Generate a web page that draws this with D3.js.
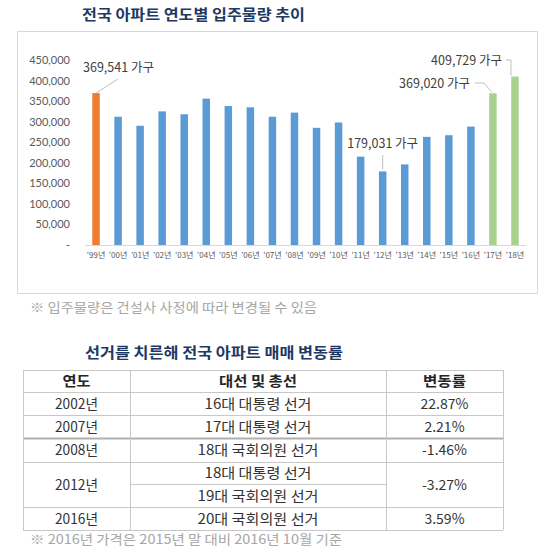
<!DOCTYPE html>
<html><head><meta charset="utf-8">
<script src="https://cdn.jsdelivr.net/npm/d3@7"></script>
<style>
html,body{margin:0;padding:0;background:#fff;}
svg{display:block;font-family:"Noto Sans CJK KR","Noto Sans",sans-serif;}
</style></head>
<body>
<svg id="c" width="560" height="560"></svg>
<script>
// ---- data ----
const years = ["'99년","'00년","'01년","'02년","'03년","'04년","'05년","'06년","'07년","'08년","'09년","'10년","'11년","'12년","'13년","'14년","'15년","'16년","'17년","'18년"];
const supply = [369541,312000,290000,325000,318000,356000,338000,335000,312000,322000,285000,298000,215000,179031,196000,263000,267000,288000,369020,409729];
const barGroup = ["past","mid","mid","mid","mid","mid","mid","mid","mid","mid","mid","mid","mid","mid","mid","mid","mid","mid","future","future"];
const yTicks = [0,50000,100000,150000,200000,250000,300000,350000,400000,450000];
const callouts = [
  {year:"'99년", text:"369,541 가구"},
  {year:"'12년", text:"179,031 가구"},
  {year:"'17년", text:"369,020 가구"},
  {year:"'18년", text:"409,729 가구"}
];
const chartTitle = "전국 아파트 연도별 입주물량 추이";
const chartNote = "※ 입주물량은 건설사 사정에 따라 변경될 수 있음";
const tableTitle = "선거를 치른해 전국 아파트 매매 변동률";
const tableHeaders = ["연도","대선 및 총선","변동률"];
const tableYears = ["2002년","2007년","2008년","2012년","2016년"];
const tableElections = [["16대 대통령 선거"],["17대 대통령 선거"],["18대 국회의원 선거"],["18대 대통령 선거","19대 국회의원 선거"],["20대 국회의원 선거"]];
const tableChanges = ["22.87%","2.21%","-1.46%","-3.27%","3.59%"];
const tableNote = "※ 2016년 가격은 2015년 말 대비 2016년 10월 기준";

// ---- styles ----
const colors = {past:"#ED7D31", mid:"#5B9BD5", future:"#A9D18E"};
const navy = "#203864";

const svg = d3.select("#c");

// fit a text element to a target width (layout helper)
function fit(sel, w){ sel.attr("textLength", w).attr("lengthAdjust","spacingAndGlyphs"); return sel; }

// title
fit(svg.append("text").attr("x",82).attr("y",20).attr("font-size",14.5).attr("font-weight","bold")
  .attr("fill",navy).text(chartTitle), 223);

// frame
svg.append("rect").attr("x",17.5).attr("y",31.5).attr("width",520).attr("height",262)
  .attr("fill","none").attr("stroke","#d9d9d9");

const x = d3.scaleBand().domain(years).range([85,526]).paddingInner(0.66).paddingOuter(0.33);
const y = d3.scaleLinear().domain([0,450000]).range([245,60]);

// y axis
const yAxis = d3.axisLeft(y).tickValues(yTicks).tickSize(0).tickPadding(0)
  .tickFormat(d => d===0 ? "-" : d3.format(",")(d));
const gy = svg.append("g").attr("transform","translate(70,0)").call(yAxis);
gy.select(".domain").remove();
gy.selectAll("text").attr("font-family","Lato, 'Liberation Sans', sans-serif").attr("font-size",11).attr("fill","#595959");

// x axis
const xAxis = d3.axisBottom(x).tickSize(0).tickPadding(7);
const gx = svg.append("g").attr("transform","translate(0,245)").call(xAxis);
gx.select(".domain").attr("stroke","#d9d9d9").attr("d","M85,0.5H526");
gx.selectAll("text").attr("font-size",8).attr("fill","#595959").attr("font-family","'Noto Sans CJK KR', sans-serif");

// bars
svg.append("g").selectAll("rect").data(years).join("rect")
  .attr("x",d=>x(d)).attr("width",x.bandwidth())
  .attr("y",(d,i)=>y(supply[i])).attr("height",(d,i)=>y(0)-y(supply[i]))
  .attr("fill",(d,i)=>colors[barGroup[i]]);

// callouts
const val = yr => supply[years.indexOf(yr)];
const cx = yr => x(yr)+x.bandwidth()/2;
const lbl = svg.append("g").attr("font-size",12.5).attr("fill","#404040");
const lead = svg.append("g").attr("fill","none").attr("stroke","#bfbfbf").attr("stroke-width",1);
{
  const c = callouts[0]; const bx = cx(c.year), by = y(val(c.year));
  lbl.append("text").attr("x",83).attr("y",72).text(c.text);
  lead.append("path").attr("d",`M118,79L${bx},${by}`);
}
{
  const c = callouts[1]; const bx = cx(c.year), by = y(val(c.year));
  lbl.append("text").attr("x",bx).attr("y",148).attr("text-anchor","middle").text(c.text);
  lead.append("path").attr("d",`M${bx},155L${bx},${by-2}`);
}
{
  const c = callouts[2]; const bx = cx(c.year), by = y(val(c.year));
  lbl.append("text").attr("x",470).attr("y",88).attr("text-anchor","end").text(c.text);
  lead.append("path").attr("d",`M475,83H484L${bx-1},${by-1}`);
}
{
  const c = callouts[3]; const bx = cx(c.year), by = y(val(c.year));
  lbl.append("text").attr("x",502).attr("y",65).attr("text-anchor","end").text(c.text);
  lead.append("path").attr("d",`M506,60H511V${by-1}`);
}

// note
fit(svg.append("text").attr("x",30).attr("y",312).attr("font-size",13).attr("fill","#a6a6a6").text(chartNote), 287);

// table title
fit(svg.append("text").attr("x",85).attr("y",358).attr("font-size",14.5).attr("font-weight","bold")
  .attr("fill",navy).text(tableTitle), 258);

// table
const colX = [23,130,386,503];
const rowY = [370,392,415,438,462,507,530];
const t = svg.append("g");
const line = (x1,y1,x2,y2,w=1,c="#c8c8c8") => t.append("line").attr("x1",x1).attr("y1",y1).attr("x2",x2).attr("y2",y2).attr("stroke",c).attr("stroke-width",w);
rowY.forEach((ry,i)=>{ line(colX[0],ry+0.5,colX[3],ry+0.5, i===3?2:1, i===3?"#b0b0b0":"#c8c8c8"); });
line(colX[1],484.5,colX[2],484.5);
colX.forEach(cxp=>line(cxp+0.5,rowY[0],cxp+0.5,rowY[rowY.length-1]));

const colC = [76.5,258,444.5];
const tt = t.append("g").attr("font-size",14).attr("fill","#333").attr("text-anchor","middle");
const headW = [28,78,43];
tableHeaders.forEach((h,i)=>fit(tt.append("text").attr("x",colC[i]).attr("y",(rowY[0]+rowY[1])/2+5).attr("font-weight","bold").attr("fill","#262626").text(h), headW[i]));
const electionW = e => e.includes("국회의원") ? 121 : 107;
tableYears.forEach((yr,i)=>{
  const top = rowY[i+1], bot = rowY[i+2];
  const mid = (top+bot)/2;
  fit(tt.append("text").attr("x",colC[0]).attr("y",mid+5).text(yr), 43);
  tt.append("text").attr("x",colC[2]).attr("y",mid+5).text(tableChanges[i]);
  const el = tableElections[i];
  const h = (bot-top)/el.length;
  el.forEach((e,j)=>fit(tt.append("text").attr("x",colC[1]).attr("y",top+h*j+h/2+5).text(e), electionW(e)));
});

fit(svg.append("text").attr("x",30).attr("y",544).attr("font-size",13).attr("fill","#a6a6a6").text(tableNote), 312);
</script>
</body></html>
